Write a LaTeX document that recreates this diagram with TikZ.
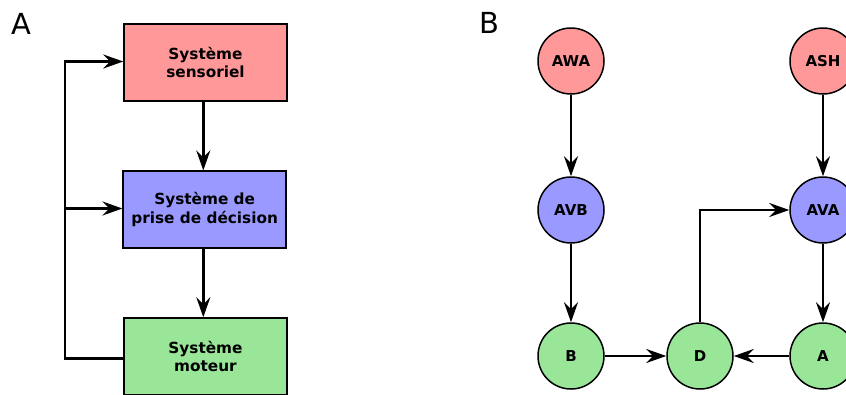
\documentclass[tikz,border=0pt]{standalone}
\usepackage{fontspec}
\setmainfont{DejaVu Sans}
\usetikzlibrary{arrows.meta}
\definecolor{cred}{RGB}{255,153,153}
\definecolor{cblue}{RGB}{153,153,255}
\definecolor{cgreen}{RGB}{153,230,153}
\begin{document}
\begin{tikzpicture}[x=1pt,y=-1pt,
  box/.style={draw=black,line width=1.5pt,minimum width=163pt,minimum height=77pt,inner sep=0pt,align=center,font=\fontsize{15.3}{18.5}\selectfont\bfseries},
  circ/.style={circle,draw=black,line width=1.5pt,minimum size=66pt,inner sep=0pt,font=\fontsize{15}{18}\selectfont\bfseries},
  conn/.style={line width=2.5pt,-{Stealth[length=20pt,width=14pt,inset=7pt]}},
  plain/.style={line width=2.5pt,line join=miter},
  panel/.style={font=\fontsize{29}{33}\selectfont,inner sep=0pt}]
\useasboundingbox (0,0) rectangle (846,394);
\clip (0,0) rectangle (846,394);
% Panel A
\node[panel] (lA) at (21,23.5) {A};
\node[box,fill=cred] (s1) at (205.5,62.5) {Système\\sensoriel};
\node[box,fill=cblue] (s2) at (204.7,209.7) {Système de\\prise de décision};
\node[box,fill=cgreen] (s3) at (205.5,356.5) {Système\\moteur};
\coordinate (c1) at (65,358.3);
\coordinate (c2) at (65,61.5);
\coordinate (c3) at (65,208.5);
\draw[conn] (s1.south -| 203.3,0) -- (s2.north -| 203.3,0);
\draw[conn] (s2.south -| 203.3,0) -- (s3.north -| 203.3,0);
\draw[conn] (s3.west |- c1) -- (c1) -- (c2) -- (s1.west |- c2);
\draw[conn] (c3) -- (s2.west |- c3);
% Panel B
\node[panel] (lB) at (489,23) {B};
\node[circ,fill=cred] (AWA) at (571,61) {AWA};
\node[circ,fill=cred] (ASH) at (823,61) {ASH};
\node[circ,fill=cblue] (AVB) at (571,210) {AVB};
\node[circ,fill=cblue] (AVA) at (823,210) {AVA};
\node[circ,fill=cgreen] (B) at (571,356) {B};
\node[circ,fill=cgreen] (D) at (700,356) {D};
\node[circ,fill=cgreen] (A) at (823,356) {A};
\draw[conn] (AWA) -- (AVB);
\draw[conn] (AVB) -- (B);
\draw[conn] (ASH) -- (AVA);
\draw[conn] (AVA) -- (A);
\draw[conn] (B) -- (D);
\draw[conn] (A) -- (D);
\draw[conn] (D.north) |- (AVA.west);
\end{tikzpicture}
\end{document}
